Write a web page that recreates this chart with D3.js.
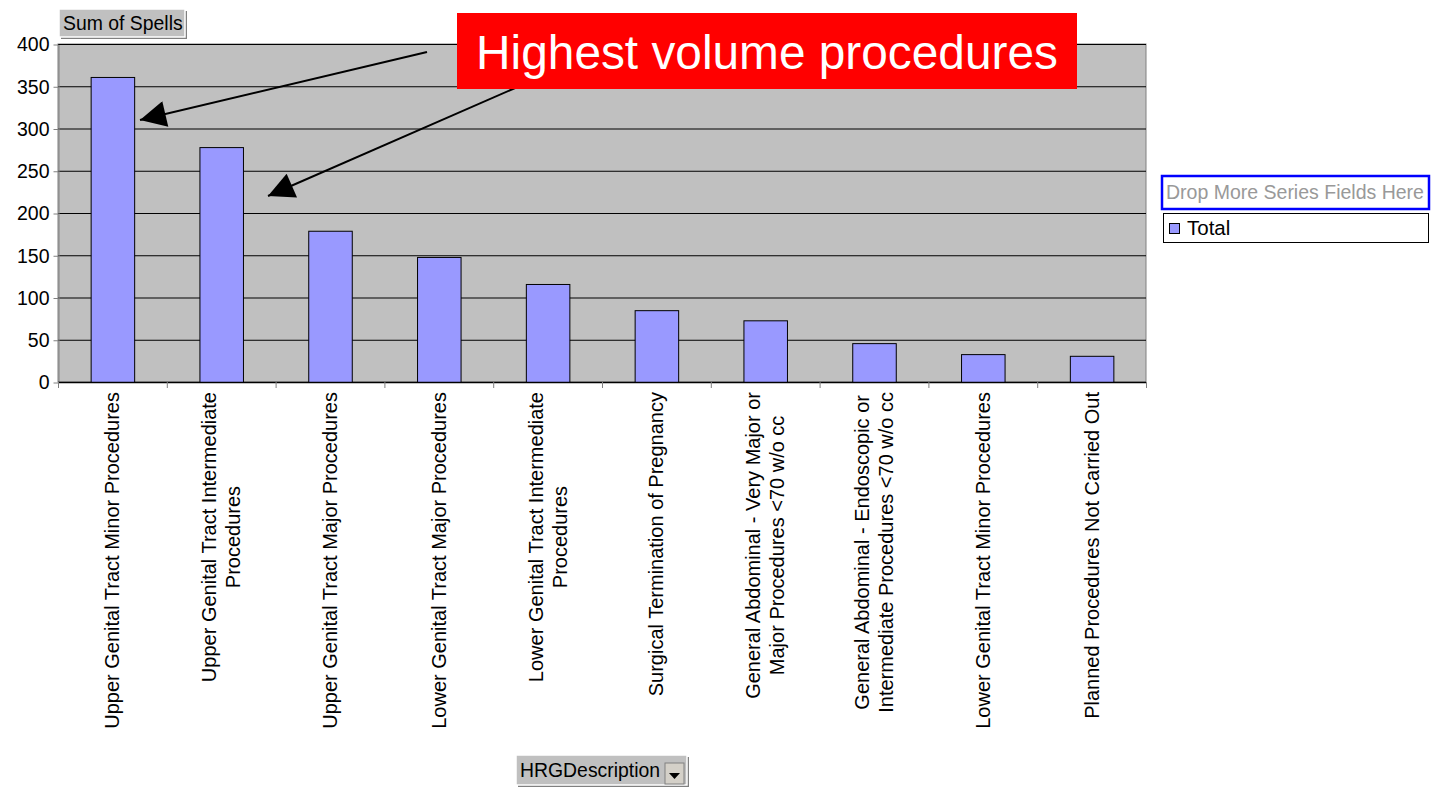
<!DOCTYPE html>
<html>
<head>
<meta charset="utf-8">
<script src="https://cdn.jsdelivr.net/npm/d3@7"></script>
<style>
  body { margin: 0; background: #fff; font-family: "Liberation Sans", Arial, sans-serif; }
</style>
</head>
<body>
<svg id="chart"></svg>
<script>
const categories = [
  ["Upper Genital Tract Minor Procedures"],
  ["Upper Genital Tract Intermediate", "Procedures"],
  ["Upper Genital Tract Major Procedures"],
  ["Lower Genital Tract Major Procedures"],
  ["Lower Genital Tract Intermediate", "Procedures"],
  ["Surgical Termination of Pregnancy"],
  ["General Abdominal - Very Major or", "Major Procedures <70 w/o cc"],
  ["General Abdominal - Endoscopic or", "Intermediate Procedures <70 w/o cc"],
  ["Lower Genital Tract Minor Procedures"],
  ["Planned Procedures Not Carried Out"]
];
const totals = [361, 278, 179, 148, 116, 85, 73, 46, 33, 31];
const yTicks = [0, 50, 100, 150, 200, 250, 300, 350, 400];

const width = 1435, height = 787;
const plot = { left: 58, right: 1146, top: 44, bottom: 382 };

const svg = d3.select("#chart").attr("width", width).attr("height", height);

const x = d3.scaleBand()
  .domain(d3.range(categories.length))
  .range([plot.left, plot.right])
  .paddingInner(0.6).paddingOuter(0.3);

const band = d3.scaleBand().domain(d3.range(categories.length)).range([plot.left, plot.right]);

const y = d3.scaleLinear().domain([0, 400]).range([plot.bottom, plot.top]);

svg.append("rect")
  .attr("x", plot.left).attr("y", plot.top)
  .attr("width", plot.right - plot.left).attr("height", plot.bottom - plot.top)
  .attr("fill", "#c0c0c0").attr("stroke", "#808080");

svg.append("g")
  .selectAll("line")
  .data(yTicks.slice(1))
  .join("line")
    .attr("x1", plot.left).attr("x2", plot.right)
    .attr("y1", d => y(d) + 0.5).attr("y2", d => y(d) + 0.5)
    .attr("stroke", "#000").attr("stroke-width", 1);

svg.append("g")
  .selectAll("rect")
  .data(totals)
  .join("rect")
    .attr("x", (d, i) => x(i) + 0.5)
    .attr("y", d => y(d) + 0.5)
    .attr("width", x.bandwidth())
    .attr("height", d => y(0) - y(d))
    .attr("fill", "#9999ff")
    .attr("stroke", "#000").attr("stroke-width", 1);

// y axis
const yAxis = svg.append("g")
  .attr("transform", `translate(${plot.left + 0.5},0.5)`)
  .call(d3.axisLeft(y).tickValues(yTicks).tickSize(5).tickSizeOuter(0));
yAxis.select(".domain").attr("stroke", "#808080");
yAxis.selectAll(".tick line").attr("stroke", "#808080");
yAxis.selectAll("text").attr("font-size", 19.5).attr("font-family", "Liberation Sans, Arial")
  .attr("fill", "#000").attr("dx", -1);

// x axis line + ticks at band boundaries
svg.append("line")
  .attr("x1", plot.left).attr("x2", plot.right)
  .attr("y1", plot.bottom + 0.5).attr("y2", plot.bottom + 0.5)
  .attr("stroke", "#000").attr("stroke-width", 1.5);
svg.append("g")
  .selectAll("line")
  .data(d3.range(categories.length + 1))
  .join("line")
    .attr("x1", i => (i < categories.length ? band(i) : plot.right) + 0.5)
    .attr("x2", i => (i < categories.length ? band(i) : plot.right) + 0.5)
    .attr("y1", plot.bottom).attr("y2", plot.bottom + 6)
    .attr("stroke", "#808080");

// x labels, rotated
const lbl = svg.append("g")
  .selectAll("text")
  .data(categories)
  .join("text")
    .attr("transform", (d, i) => `translate(${band(i) + band.bandwidth() / 2},${plot.bottom + 10}) rotate(-90)`)
    .attr("text-anchor", "end")
    .attr("font-size", 20)
    .attr("fill", "#000");
lbl.each(function(d) {
  const t = d3.select(this);
  const n = d.length;
  d.forEach((line, k) => {
    t.append("tspan")
      .attr("x", 0)
      .attr("text-anchor", n > 1 ? "middle" : "end")
      .attr("y", (k - (n - 1) / 2) * 24 + 7)
      .text(line);
  });
});
// center two-line labels about the longest line
lbl.each(function(d) {
  if (d.length > 1) {
    const t = d3.select(this);
    const widths = [];
    t.selectAll("tspan").each(function() { widths.push(this.getComputedTextLength()); });
    const w = d3.max(widths);
    t.selectAll("tspan").attr("x", -w / 2);
  }
});

// field buttons
function button(x0, y0, w, h, text, arrow) {
  const g = svg.append("g");
  g.append("rect").attr("x", x0 + 2).attr("y", y0 + 2).attr("width", w).attr("height", h).attr("fill", "#808080");
  g.append("rect").attr("x", x0).attr("y", y0).attr("width", w).attr("height", h)
    .attr("fill", "#c0c0c0").attr("stroke", "#fff").attr("stroke-width", 1.5);
  g.append("text").attr("x", x0 + 4).attr("y", y0 + h / 2 + 7).attr("font-size", 19.4).attr("fill", "#000").text(text);
  if (arrow) {
    const ax = x0 + w - 22;
    g.append("rect").attr("x", ax).attr("y", y0 + 8).attr("width", 19).attr("height", h - 9)
      .attr("fill", "#d4d0c8").attr("stroke", "#808080");
    g.append("path").attr("d", `M${ax + 4},${y0 + 18} L${ax + 15},${y0 + 18} L${ax + 9.5},${y0 + 24} Z`).attr("fill", "#000");
  }
}
button(59, 9, 126, 28, "Sum of Spells", false);
button(516, 755, 171, 30, "HRGDescription", true);

// legend
svg.append("rect").attr("x", 1162).attr("y", 176).attr("width", 267).attr("height", 33)
  .attr("fill", "#fff").attr("stroke", "#0000ff").attr("stroke-width", 2.5);
svg.append("text").attr("x", 1166).attr("y", 199).attr("font-size", 19.5).attr("fill", "#999").text("Drop More Series Fields Here");
svg.append("rect").attr("x", 1163.5).attr("y", 213.5).attr("width", 265).attr("height", 29)
  .attr("fill", "#fff").attr("stroke", "#000");
svg.append("rect").attr("x", 1169.5).attr("y", 223.5).attr("width", 10).attr("height", 10)
  .attr("fill", "#9999ff").attr("stroke", "#000");
svg.append("text").attr("x", 1187).attr("y", 235).attr("font-size", 20.5).attr("fill", "#000").text("Total");

// annotation
svg.append("defs").append("marker")
  .attr("id", "head").attr("viewBox", "0 0 10 10").attr("refX", 10).attr("refY", 5)
  .attr("markerWidth", 30).attr("markerHeight", 26).attr("markerUnits", "userSpaceOnUse")
  .attr("orient", "auto")
  .append("path").attr("d", "M0,0 L10,5 L0,10 Z").attr("fill", "#000");
svg.append("line").attr("x1", 427).attr("y1", 52).attr("x2", 140).attr("y2", 120)
  .attr("stroke", "#000").attr("stroke-width", 2).attr("marker-end", "url(#head)");
svg.append("line").attr("x1", 522).attr("y1", 85).attr("x2", 268).attr("y2", 196)
  .attr("stroke", "#000").attr("stroke-width", 2).attr("marker-end", "url(#head)");
svg.append("rect").attr("x", 457).attr("y", 13).attr("width", 620).attr("height", 76).attr("fill", "#ff0000");
svg.append("text").attr("x", 767).attr("y", 69).attr("text-anchor", "middle")
  .attr("font-size", 47.8).attr("fill", "#fff").text("Highest volume procedures");
</script>
</body>
</html>
